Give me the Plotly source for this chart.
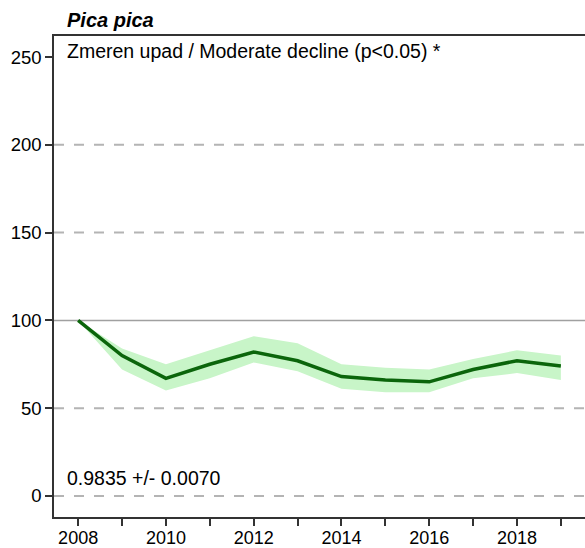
import plotly.graph_objects as go

years = [2008, 2009, 2010, 2011, 2012, 2013, 2014, 2015, 2016, 2017, 2018, 2019]
index_values = [100, 80, 67, 75, 82, 77, 68, 66, 65, 72, 77, 74]
upper_ci = [100, 84, 75, 83, 91, 87, 75, 73, 72, 78, 83, 80]
lower_ci = [100, 72, 60, 67, 76, 71, 61, 59, 59, 67, 70, 66]

x_tick_vals = years
x_tick_text = ["2008", "", "2010", "", "2012", "", "2014", "", "2016", "", "2018", ""]
y_tick_vals = [0, 50, 100, 150, 200, 250]
dashed_grid = [0, 50, 150, 200]
baseline = [100]

species = "Pica pica"
trend_text = "Zmeren upad / Moderate decline (p<0.05) *"
slope_text = "0.9835 +/- 0.0070"

FONT = "Liberation Sans, Arial, sans-serif"

fig = go.Figure()

fig.add_trace(go.Scatter(
    x=years + years[::-1], y=upper_ci + lower_ci[::-1],
    fill="toself", fillcolor="#c8f5c8", line=dict(width=0),
    mode="lines", hoverinfo="skip", showlegend=False,
))
fig.add_trace(go.Scatter(
    x=years, y=index_values, mode="lines",
    line=dict(color="#0b650b", width=3.5), showlegend=False,
))

for g in dashed_grid:
    fig.add_shape(type="line", xref="paper", x0=0, x1=1, yref="y", y0=g, y1=g,
                  line=dict(color="#b4b4b4", width=2, dash="10px,10px"), layer="below")
for g in baseline:
    fig.add_shape(type="line", xref="paper", x0=0, x1=1, yref="y", y0=g, y1=g,
                  line=dict(color="#a0a0a0", width=1.5), layer="below")

fig.add_annotation(text="<b><i>" + species + "</i></b>", xref="paper", yref="paper",
                   x=0.02, y=1.0, xanchor="left", yanchor="bottom", showarrow=False,
                   yshift=3, font=dict(family=FONT, size=20, color="#000"))
fig.add_annotation(text=trend_text, xref="paper", yref="paper",
                   x=0.02, y=0.995, xanchor="left", yanchor="top", showarrow=False,
                   font=dict(family=FONT, size=19.5, color="#000"))
fig.add_annotation(text=slope_text, xref="paper", yref="y",
                   x=0.02, y=3, xanchor="left", yanchor="bottom", showarrow=False,
                   font=dict(family=FONT, size=19.5, color="#000"))

fig.update_layout(
    width=585, height=548,
    margin=dict(l=54, r=0, t=36, b=31, autoexpand=False),
    paper_bgcolor="white", plot_bgcolor="white",
    font=dict(family=FONT, size=19, color="#000"),
    xaxis=dict(range=[2007.45, 2019.55], tickvals=x_tick_vals, ticktext=x_tick_text,
               ticks="outside", ticklen=7, tickwidth=2, tickcolor="#333",
               showgrid=False, zeroline=False, showline=True, linecolor="#333",
               linewidth=1.5, mirror=True, tickfont=dict(size=18), automargin=False,
               ticklabelstandoff=-3),
    yaxis=dict(range=[-12, 262], tickvals=y_tick_vals,
               ticks="outside", ticklen=7, tickwidth=2, tickcolor="#333",
               showgrid=False, zeroline=False, showline=True, linecolor="#333",
               linewidth=1.5, mirror=True, tickfont=dict(size=18.5), automargin=False),
)

fig.write_html("out.html", config={"displayModeBar": False},
               post_script="document.body.style.margin='0';document.body.style.overflow='hidden';")
